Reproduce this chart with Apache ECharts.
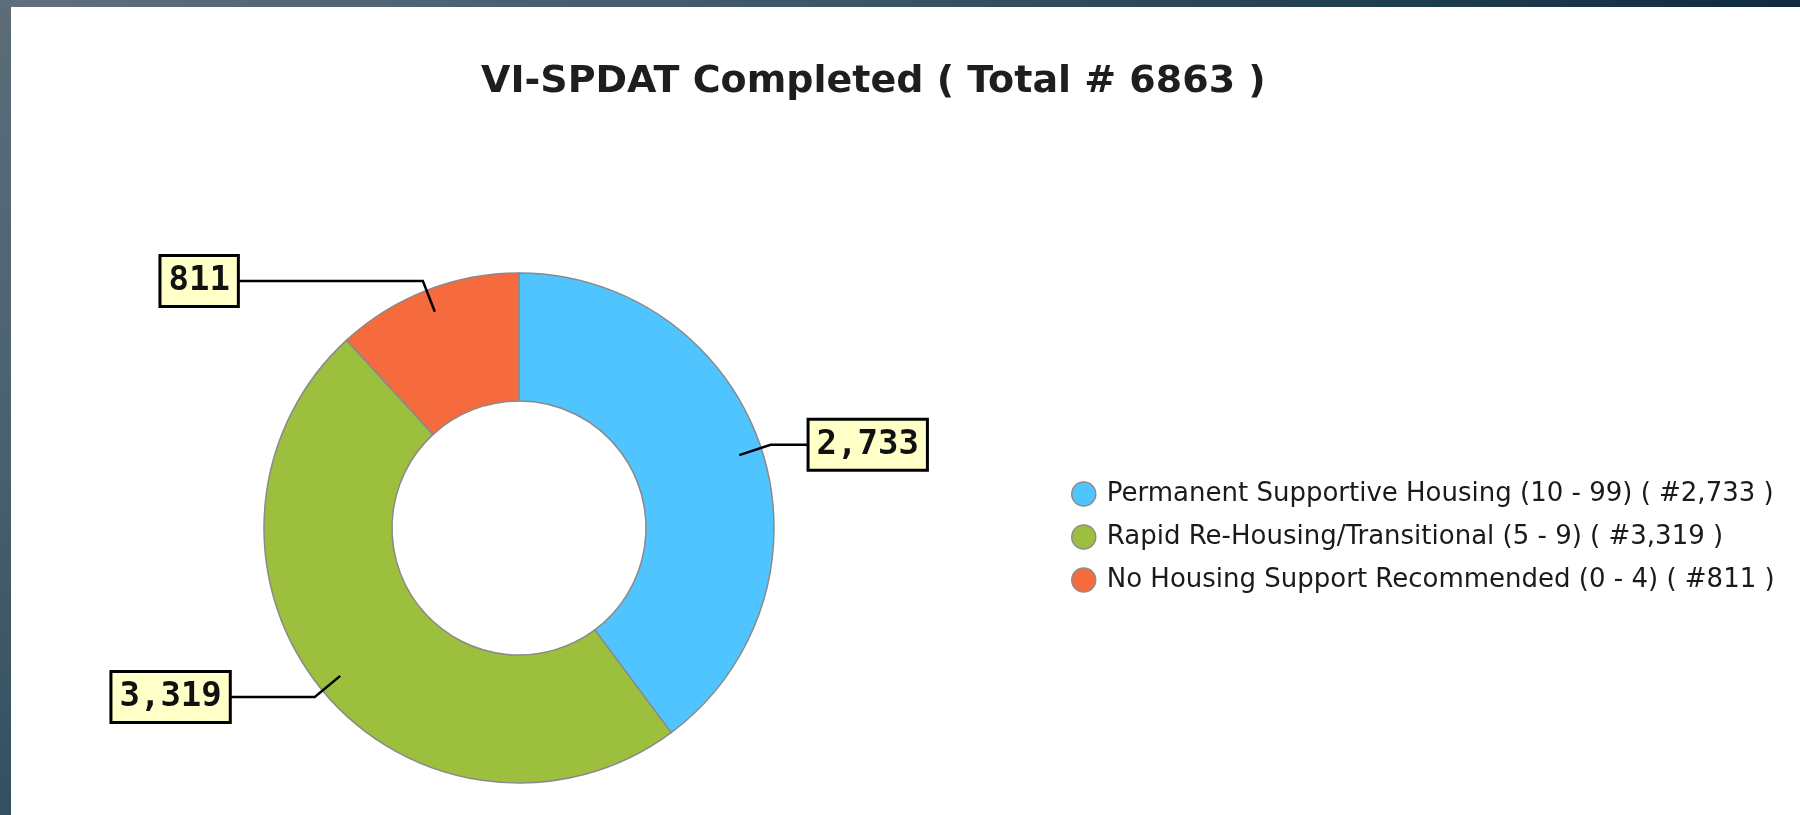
<!DOCTYPE html>
<html>
<head>
<meta charset="utf-8">
<title>VI-SPDAT Completed</title>
<script src="https://cdn.jsdelivr.net/npm/echarts@6/dist/echarts.min.js"></script>
<style>
    html, body {
        margin: 0;
        padding: 0;
        width: 1800px;
        height: 815px;
        overflow: hidden;
    }
    body {
        background: linear-gradient(to right, #607080 0%, #3d5767 45%, #21404f 75%, #0e2b3f 100%);
        position: relative;
    }
    .left-bar {
        position: absolute;
        left: 0;
        top: 0;
        width: 11px;
        height: 815px;
        background: linear-gradient(to bottom, #5c6c79 0%, #4c6270 50%, #33505e 100%);
    }
    .panel {
        position: absolute;
        left: 11px;
        top: 7px;
        right: 0;
        bottom: 0;
        background: #fff;
    }
    #chart {
        position: absolute;
        left: 0;
        top: 0;
        width: 1800px;
        height: 815px;
    }
</style>
</head>
<body>
<div class="left-bar"></div>
<div class="panel"></div>
<div id="chart"></div>

<script>
    // data
    const categories = ['Permanent Supportive Housing', 'Rapid Re-Housing/Transitional', 'No Housing Support Recommended'];
    const scoreRanges = ['10 - 99', '5 - 9', '0 - 4'];
    const counts = [2733, 3319, 811];

    const colorArr = ['#50c4ff', '#9cbf3e', '#f56b3d'];
    // horizontal leader length per slice
    const leaderArr = [39, 86, 186];

    const total = counts.reduce((acc, val) => acc + val, 0);
    const fmt = (n) => n.toLocaleString('en-US');

    const chart = echarts.init(document.getElementById('chart'));

    let circlePointCenter = [519, 528];

    let option = {
        animation: false,
        title: {
            text: `VI-SPDAT Completed ( Total # ${total} )`,
            left: 476,
            top: 58,
            textStyle: {
                fontFamily: 'DejaVu Sans',
                fontWeight: 'bold',
                fontSize: 38,
                color: '#1e1e1e'
            }
        },
        legend: {
            orient: 'vertical',
            icon: 'circle',
            left: 1066,
            top: 476,
            itemWidth: 24,
            itemHeight: 24,
            itemGap: 17,
            data: categories,
            itemStyle: {
                borderColor: '#8c8c8c',
                borderWidth: 1.5
            },
            textStyle: {
                fontFamily: 'DejaVu Sans',
                fontSize: 26,
                color: '#1a1a1a',
                padding: [0, 0, 0, 6]
            },
            formatter: function (name) {
                let i = categories.indexOf(name);
                return `${name} (${scoreRanges[i]}) ( #${fmt(counts[i])} )`;
            }
        },
        series: [
            {
                name: 'VI-SPDAT',
                type: 'pie',
                z: 2,
                center: circlePointCenter,
                radius: [127, 255],
                startAngle: 90,
                silent: true,
                label: { show: false },
                labelLine: { show: false },
                emphasis: { disabled: true },
                itemStyle: {
                    borderColor: '#8a8a8a',
                    borderWidth: 1.5
                },
                data: categories.map((name, i) => ({
                    name: name,
                    value: counts[i],
                    itemStyle: { color: colorArr[i] }
                }))
            },
            // transparent copy that only carries the boxed labels and leaders
            {
                name: 'labels',
                type: 'pie',
                z: 5,
                center: circlePointCenter,
                radius: [127, 232],
                startAngle: 90,
                silent: true,
                avoidLabelOverlap: false,
                emphasis: { disabled: true },
                itemStyle: { color: 'rgba(0,0,0,0)' },
                label: {
                    show: true,
                    position: 'outside',
                    distanceToLabelLine: 0,
                    formatter: (p) => fmt(p.value),
                    fontFamily: 'DejaVu Sans Mono',
                    fontWeight: 'bold',
                    fontSize: 34,
                    lineHeight: 36,
                    color: '#111',
                    backgroundColor: '#ffffc8',
                    borderColor: '#000',
                    borderWidth: 3,
                    padding: [6, 7]
                },
                labelLine: {
                    show: true,
                    length: 33,
                    lineStyle: {
                        color: '#000',
                        width: 2.5
                    }
                },
                data: categories.map((name, i) => ({
                    name: name,
                    value: counts[i],
                    labelLine: { length2: leaderArr[i] }
                }))
            }
        ]
    };
    chart.setOption(option);
</script>
</body>
</html>
